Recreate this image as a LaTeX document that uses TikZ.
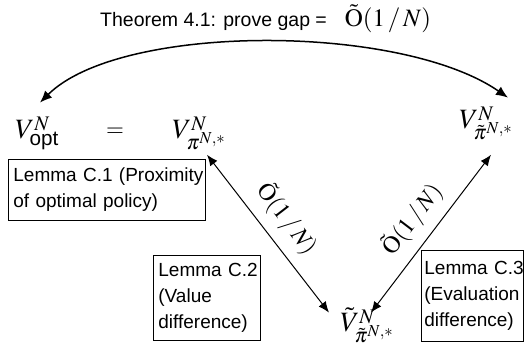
\documentclass[tikz,border=0pt]{standalone}
\usepackage{amsmath}
\usepackage{mathptmx}
\usepackage[no-math]{fontspec}
\setmainfont{Liberation Sans}
\usetikzlibrary{arrows.meta}
\newcommand{\supN}{\smash{\raisebox{-2.5pt}{$\scriptstyle N$}}}
\begin{document}
\begin{tikzpicture}[x=1pt,y=-1pt,
  mathnode/.style={inner sep=0pt, font=\fontsize{28}{34}\selectfont},
  labelnode/.style={font=\fontsize{24}{28}\selectfont, inner sep=2pt},
  lemmabox/.style={draw, line width=0.8pt, anchor=north west, align=left,
    inner ysep=0pt, font=\fontsize{19}{26}\selectfont},
  curvearrow/.style={line width=1.5pt, {Latex[length=12pt,width=10pt]}-{Latex[length=12pt,width=10pt]}},
  diagarrow/.style={line width=1pt, {Latex[length=11pt,width=9pt]}-{Latex[length=11pt,width=9pt]}}
]
\useasboundingbox (0,0) rectangle (525,351);

% top statement
\node[anchor=base west, inner sep=0pt, font=\fontsize{19.5}{24}\selectfont] (thm) at (100,26)
  {Theorem 4.1: prove gap =\hspace{18pt}{\fontsize{25}{30}\selectfont$\tilde{\mathrm{O}}(1\,/\,N)$}};

% value nodes
\node[mathnode, anchor=base west] (vopt) at (15,138) {$V^{\supN}_{\text{opt}}$};
\node[mathnode, anchor=base, font=\fontsize{23}{28}\selectfont] (eq) at (115,136) {$=$};
\node[mathnode, anchor=base west] (vpi) at (172,138) {$V^{\supN}_{\pi^{N,*}}$};
\node[mathnode, anchor=base west] (vpt) at (459,128) {$V^{\supN}_{\tilde\pi^{N,*}}$};
\node[mathnode, anchor=base west] (vtl) at (340,331) {$\tilde V^{\supN}_{\tilde\pi^{N,*}}$};

% lemma boxes
\node[lemmabox, inner xsep=5pt, text width=187pt, minimum width=197pt, minimum height=61pt] (c1) at (8,159)
  {\mbox{Lemma C.1 (Proximity}\\\mbox{of optimal policy)}};
\node[lemmabox, inner xsep=5pt, text width=97pt, minimum width=107pt, minimum height=85pt] (c2) at (153,255)
  {\mbox{Lemma C.2}\\\mbox{(Value}\\\mbox{difference)}};
\node[lemmabox, inner xsep=3pt, text width=96pt, minimum width=102pt, minimum height=91pt] (c3) at (421,250)
  {\mbox{Lemma C.3}\\\mbox{(Evaluation}\\\mbox{difference)}};

% connectors
\draw[curvearrow] ([xshift=3pt,yshift=17pt]vopt.north) .. controls (120,23) and (400,23) .. ([xshift=22pt,yshift=12pt]vpt.north);
\draw[diagarrow] ([xshift=-19pt,yshift=-5pt]vpi.south east) -- ([xshift=-11pt,yshift=-5pt]vtl.north west)
  node[labelnode, midway, sloped, above=8pt] (l1) {$\tilde{\mathrm{O}}(1\,/\,N)$};
\draw[diagarrow] ([xshift=4pt,yshift=-5pt]vtl.north) -- ([xshift=5pt,yshift=-15pt]vpt.south)
  node[labelnode, midway, sloped, above=8pt] (l2) {$\tilde{\mathrm{O}}(1\,/\,N)$};
\end{tikzpicture}
\end{document}
